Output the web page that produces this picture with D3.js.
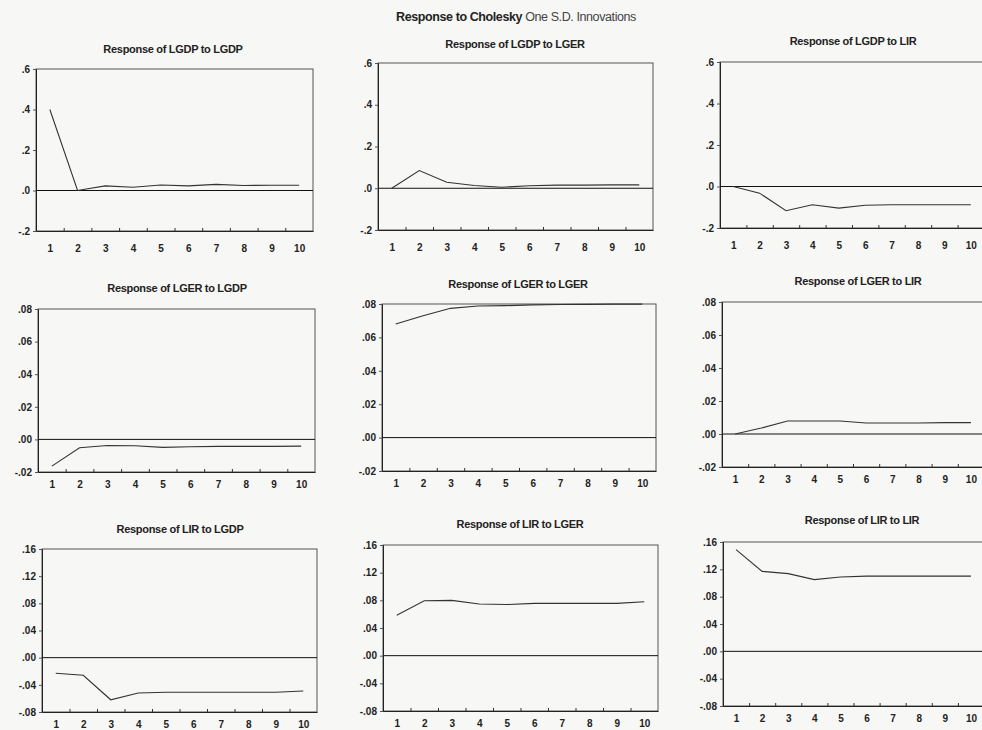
<!DOCTYPE html>
<html>
<head>
<meta charset="utf-8">
<script src="https://cdn.jsdelivr.net/npm/d3@7"></script>
<style>
  body { margin: 0; background: #f7f7f5; }
  svg { display: block; font-family: "Liberation Sans", Arial, sans-serif; }
  .title { font-weight: bold; font-size: 11px; fill: #222; letter-spacing: -0.3px; }
  .tick text { font-weight: bold; font-size: 10px; fill: #222; }
</style>
</head>
<body>
<div class="chart"></div>
<script>
var width = 982,
    height = 730;

// horizons 1..10
var horizons = [1, 2, 3, 4, 5, 6, 7, 8, 9, 10];

// responses
var lgdpToLgdp = [0.40, 0.00, 0.023, 0.016, 0.027, 0.023, 0.030, 0.025, 0.026, 0.026];
var lgdpToLger = [0.0, 0.085, 0.029, 0.013, 0.005, 0.012, 0.015, 0.015, 0.016, 0.016];
var lgdpToLir  = [0.0, -0.032, -0.117, -0.088, -0.104, -0.090, -0.088, -0.088, -0.088, -0.088];
var lgerToLgdp = [-0.0164, -0.0051, -0.0037, -0.0039, -0.0049, -0.0045, -0.0043, -0.0043, -0.0043, -0.0041];
var lgerToLger = [0.068, 0.073, 0.0774, 0.0788, 0.079, 0.0795, 0.0797, 0.0798, 0.0799, 0.0799];
var lgerToLir  = [0.0, 0.0036, 0.0079, 0.0079, 0.0079, 0.0067, 0.0067, 0.0067, 0.0069, 0.0069];
var lirToLgdp  = [-0.023, -0.026, -0.062, -0.052, -0.051, -0.051, -0.051, -0.051, -0.051, -0.049];
var lirToLger  = [0.0585, 0.0795, 0.080, 0.0746, 0.074, 0.0756, 0.0756, 0.0756, 0.0756, 0.078];
var lirToLir   = [0.1488, 0.117, 0.1137, 0.105, 0.1088, 0.110, 0.110, 0.110, 0.110, 0.110];

// y ticks per row
var ticksRow1 = [-0.2, 0, 0.2, 0.4, 0.6];
var labelsRow1 = ["-.2", ".0", ".2", ".4", ".6"];
var ticksRow2 = [-0.02, 0, 0.02, 0.04, 0.06, 0.08];
var labelsRow2 = ["-.02", ".00", ".02", ".04", ".06", ".08"];
var ticksRow3 = [-0.08, -0.04, 0, 0.04, 0.08, 0.12, 0.16];
var labelsRow3 = ["-.08", "-.04", ".00", ".04", ".08", ".12", ".16"];

var titles = [
  "Response of LGDP to LGDP", "Response of LGDP to LGER", "Response of LGDP to LIR",
  "Response of LGER to LGDP", "Response of LGER to LGER", "Response of LGER to LIR",
  "Response of LIR to LGDP", "Response of LIR to LGER", "Response of LIR to LIR"
];
var series = [lgdpToLgdp, lgdpToLger, lgdpToLir,
              lgerToLgdp, lgerToLger, lgerToLir,
              lirToLgdp, lirToLger, lirToLir];

// frame of each panel on the (slightly skewed) scan
var frames = [
  {x0: 36, y0: 69, x1: 313, y1: 231, tx: 173, ty: 53},
  {x0: 378, y0: 63, x1: 653, y1: 230, tx: 515, ty: 48},
  {x0: 720, y0: 62, x1: 984, y1: 228, tx: 853, ty: 45},
  {x0: 38, y0: 309, x1: 315, y1: 472, tx: 177, ty: 292},
  {x0: 382, y0: 304, x1: 656, y1: 471, tx: 518, ty: 288},
  {x0: 722, y0: 302, x1: 984, y1: 467, tx: 858, ty: 285},
  {x0: 42, y0: 549, x1: 317, y1: 712, tx: 180, ty: 533},
  {x0: 383, y0: 545, x1: 658, y1: 711, tx: 520, ty: 528},
  {x0: 723, y0: 542, x1: 984, y1: 706, tx: 862, ty: 524}
];
var labelPad = [14, 9, 9];

var svg = d3.select(".chart").append("svg")
    .attr("width", width)
    .attr("height", height);

svg.append("rect")
    .attr("width", width)
    .attr("height", height)
    .attr("fill", "#f7f7f5");

var main = svg.append("text")
    .attr("x", 516)
    .attr("y", 21)
    .attr("text-anchor", "middle")
    .style("font-size", "12.5px")
    .style("letter-spacing", "-0.4px")
    .style("fill", "#222");
main.append("tspan").style("font-weight", "bold").text("Response to Cholesky ");
main.append("tspan").style("fill", "#444").text("One S.D. Innovations");

series.forEach(function(values, i) {
  var f = frames[i],
      row = Math.floor(i / 3);
  var yTicks = [ticksRow1, ticksRow2, ticksRow3][row],
      yLabels = [labelsRow1, labelsRow2, labelsRow3][row];

  var x = d3.scaleLinear()
      .domain([0.5, 10.5])
      .range([f.x0, f.x1]);
  var y = d3.scaleLinear()
      .domain([yTicks[0], yTicks[yTicks.length - 1]])
      .range([f.y1, f.y0]);

  var g = svg.append("g");

  g.append("text")
      .attr("class", "title")
      .attr("x", f.tx)
      .attr("y", f.ty)
      .attr("text-anchor", "middle")
      .text(titles[i]);

  // frame
  g.append("rect")
      .attr("x", f.x0)
      .attr("y", f.y0)
      .attr("width", f.x1 - f.x0)
      .attr("height", f.y1 - f.y0)
      .attr("fill", "none")
      .attr("stroke", "#555")
      .attr("stroke-width", 1);

  // zero line
  g.append("line")
      .attr("x1", f.x0).attr("x2", f.x1)
      .attr("y1", y(0)).attr("y2", y(0))
      .attr("stroke", "#111")
      .attr("stroke-width", 1);

  // y axis
  var yAxis = d3.axisLeft(y)
      .tickValues(yTicks)
      .tickFormat(function(d, k) { return yLabels[k]; })
      .tickSize(3)
      .tickPadding(3);
  g.append("g")
      .attr("transform", "translate(" + f.x0 + ",0)")
      .call(yAxis)
      .call(function(a) { a.select(".domain").attr("stroke", "#222"); a.selectAll(".tick line").attr("stroke", "#555"); });

  // x labels
  var xAxis = d3.axisBottom(x)
      .tickValues(horizons)
      .tickFormat(d3.format("d"))
      .tickSize(0)
      .tickPadding(labelPad[row]);
  g.append("g")
      .attr("transform", "translate(0," + f.y1 + ")")
      .call(xAxis)
      .call(function(a) { a.select(".domain").attr("stroke", "#222"); });

  // x ticks between periods, pointing inward
  var xTicks = d3.axisBottom(x)
      .tickValues(horizons.slice(0, 9).map(function(d) { return d + 0.5; }))
      .tickFormat("")
      .tickSize(-3);
  g.append("g")
      .attr("transform", "translate(0," + f.y1 + ")")
      .call(xTicks)
      .call(function(a) { a.select(".domain").remove(); a.selectAll(".tick line").attr("stroke", "#333"); });

  var line = d3.line()
      .x(function(d, k) { return x(horizons[k]); })
      .y(function(d) { return y(d); });

  g.append("path")
      .datum(values)
      .attr("d", line)
      .attr("fill", "none")
      .attr("stroke", "#333")
      .attr("stroke-width", 1.1);
});
</script>
</body>
</html>
